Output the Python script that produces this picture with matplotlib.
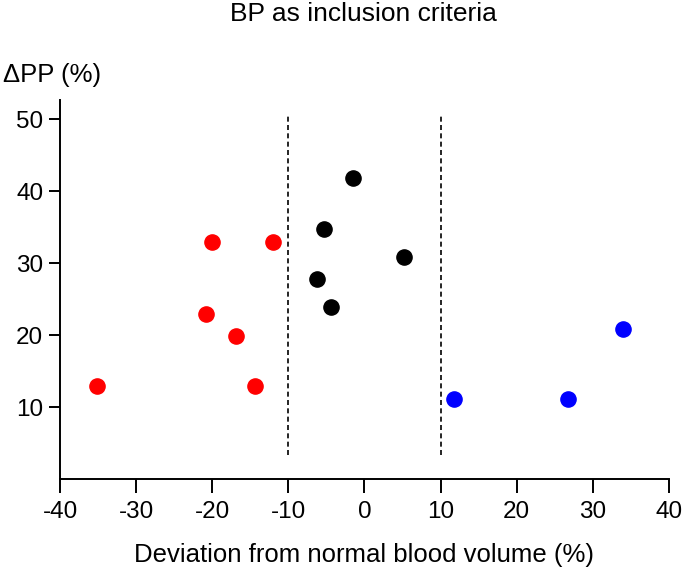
import matplotlib.pyplot as plt

plt.rcParams['font.family'] = ['Liberation Sans', 'DejaVu Sans']
plt.rcParams['axes.unicode_minus'] = False

# deviation from normal blood volume (%) and delta PP (%)
red_x = [-35.2, -20.0, -12.0, -20.8, -16.9, -14.4]
red_y = [12.9, 32.9, 32.9, 23.0, 19.9, 12.9]

black_x = [-1.5, -5.3, 5.2, -6.3, -4.4]
black_y = [41.9, 34.8, 30.8, 27.8, 23.9]

blue_x = [11.8, 26.7, 34.0]
blue_y = [11.1, 11.1, 20.9]

cutoffs = [-10, 10]
xticks = [-40, -30, -20, -10, 0, 10, 20, 30, 40]
yticks = [10, 20, 30, 40, 50]

fig = plt.figure(figsize=(6.85, 5.7), dpi=100)
ax = fig.add_axes([0.0876, 0.1596, 0.889, 0.665])

ax.scatter(red_x, red_y, s=120, color='#ff0000', zorder=3)
ax.scatter(black_x, black_y, s=120, color='black', zorder=3)
ax.scatter(blue_x, blue_y, s=120, color='#0000ff', zorder=3)

for c in cutoffs:
    ax.plot([c, c], [3.3, 50.5], color='black', linestyle=(0, (3, 2)), linewidth=1.2)

ax.set_xlim(-40, 40)
ax.set_ylim(0, 52.7)
ax.set_xticks(xticks)
ax.set_yticks(yticks)
ax.tick_params(axis='x', direction='out', length=10, width=1.4, labelsize=17.5, pad=6)
ax.tick_params(axis='y', direction='out', length=8, width=1.4, labelsize=17.5, pad=4)

for side in ['top', 'right']:
    ax.spines[side].set_visible(False)
for side in ['left', 'bottom']:
    ax.spines[side].set_linewidth(1.4)

ax.set_xlabel('Deviation from normal blood volume (%)', fontsize=18.5, labelpad=14)
fig.text(0.004, 0.869, 'ΔPP (%)', fontsize=18.5, ha='left', va='center')
fig.text(0.531, 0.975, 'BP as inclusion criteria', fontsize=19, ha='center', va='center')

fig.savefig('out.png', dpi=100)
